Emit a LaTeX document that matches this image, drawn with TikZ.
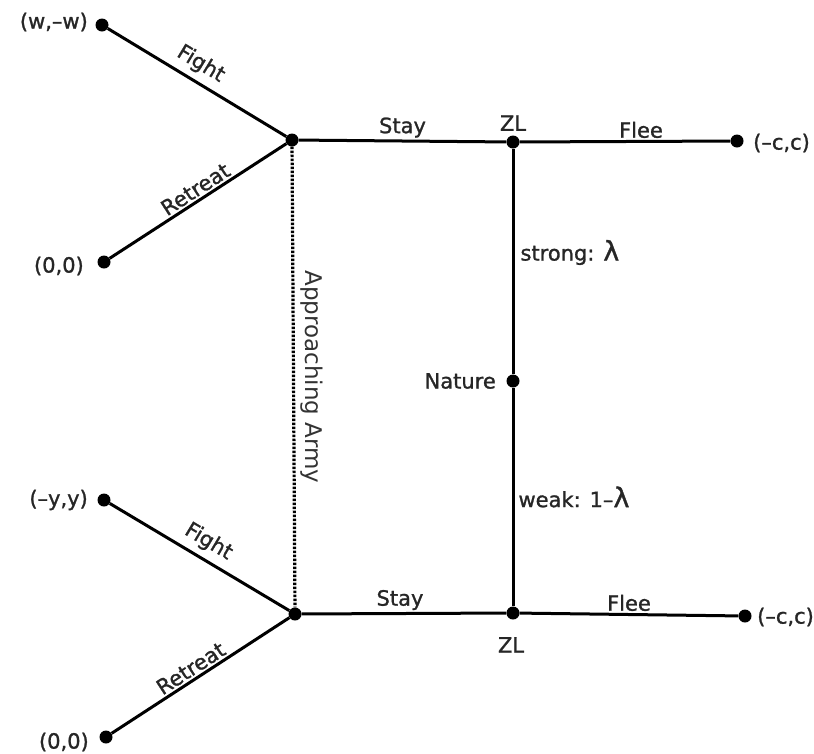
\documentclass[tikz,border=0pt]{standalone}
\usepackage{fontspec}
\setmainfont{DejaVu Sans}[RawFeature={embolden=1.2}]
\newfontfamily\plainfont{DejaVu Sans}
\begin{document}
\begin{tikzpicture}[x=1pt,y=-1pt,
  dot/.style={circle,fill=black,inner sep=0pt,minimum size=13pt},
  edge/.style={line width=3pt},
  dotline/.style={line width=3.2pt,dash pattern=on 2.4pt off 1.6pt},
  lab/.style={font=\fontsize{21}{24}\selectfont,text=black!85,inner sep=2pt}]
\useasboundingbox (0,0) rectangle (814,753);
% nodes
\node[dot] (p1) at (102,25) {};
\node[dot] (p2) at (104,262) {};
\node[dot] (a1) at (292,140) {};
\node[dot] (z1) at (513,142) {};
\node[dot] (f1) at (737,141) {};
\node[dot] (nat) at (513,381) {};
\node[dot] (z2) at (513,613) {};
\node[dot] (a2) at (295,614) {};
\node[dot] (f2) at (745,616) {};
\node[dot] (p3) at (104,500) {};
\node[dot] (p4) at (106,737) {};
% payoff labels
\node[lab,anchor=east] (t1) at (90,22) {(w,–w)};
\node[lab,anchor=east] (t2) at (86,266) {(0,0)};
\node[lab,anchor=east] (t3) at (90,500) {(–y,y)};
\node[lab,anchor=east] (t4) at (91,742) {(0,0)};
\node[lab,anchor=west] (t5) at (751,143) {(–c,c)};
\node[lab,anchor=west] (t6) at (755,617) {(–c,c)};
\node[lab,anchor=south] (zl1) at (513,133) {ZL};
\node[lab,anchor=north] (zl2) at (511,635) {ZL};
\node[lab,anchor=east] (natl) at (498,381) {Nature};
% edges
\draw[edge] (p1) -- node[lab,sloped,above=4pt,pos=0.47] {Fight} (a1);
\draw[edge] (p2) -- node[lab,sloped,above,pos=0.52] {Retreat} (a1);
\draw[edge] (p3) -- node[lab,sloped,above=4pt,pos=0.5] {Fight} (a2);
\draw[edge] (p4) -- node[lab,sloped,above,pos=0.48] {Retreat} (a2);
\draw[edge] (a1) -- node[lab,above] {Stay} (z1);
\draw[edge] (z1) -- node[lab,above,xshift=16pt] {Flee} (f1);
\draw[edge] (a2) -- node[lab,above,xshift=-4pt] {Stay} (z2);
\draw[edge] (z2) -- node[lab,above] {Flee} (f2);
\draw[edge] (z1) -- node[lab,right,pos=0.46,xshift=4pt] {strong: {\fontsize{27}{30}\selectfont λ}} (nat);
\draw[edge] (nat) -- node[lab,right,xshift=2pt] {weak: 1–{\fontsize{27}{30}\selectfont λ}} (z2);
\draw[dotline] (a1) -- node[lab,rotate=-90,yshift=18pt,text=black!80,font=\plainfont\fontsize{23}{26}\selectfont] {Approaching Army} (a2);
\end{tikzpicture}
\end{document}
